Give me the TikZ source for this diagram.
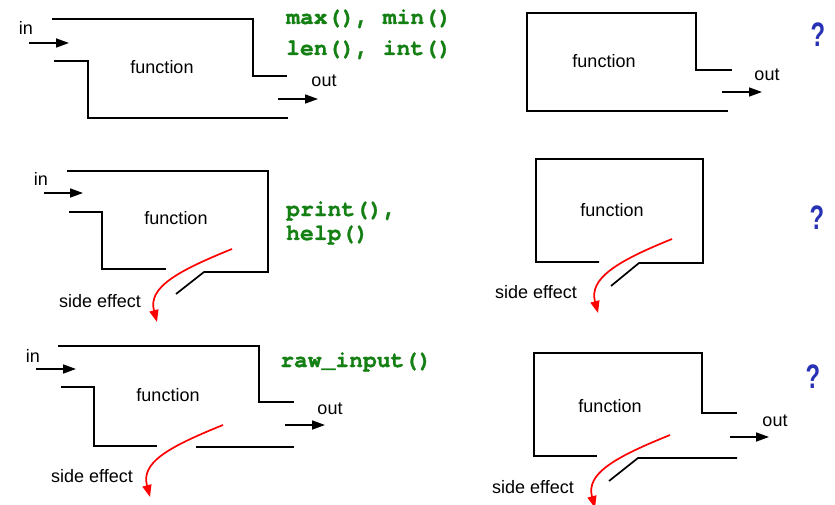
\documentclass[tikz,border=0pt]{standalone}
\usepackage{fontspec}
\setmainfont{Liberation Sans}
\newfontfamily\codefont{TeX Gyre Cursor}[BoldFeatures={FakeBold=1.2}]
\usetikzlibrary{arrows.meta}

\definecolor{codegreen}{RGB}{20,128,20}
\definecolor{askblue}{RGB}{40,50,180}

\begin{document}
\begin{tikzpicture}[x=1pt,y=-1pt,
  wall/.style={line width=1.7pt},
  flow/.style={line width=1.7pt,-{Triangle[length=13pt,width=9pt]}},
  leak/.style={red,line width=1.7pt,-{Triangle[length=12pt,width=9pt]}},
  lbl/.style={font=\fontsize{18}{20}\selectfont,inner sep=0pt,anchor=base},
  code/.style={font=\codefont\bfseries\fontsize{23}{26}\selectfont,text=codegreen,inner sep=0pt,anchor=base west},
  ask/.style={font=\bfseries\fontsize{34}{36}\selectfont,text=askblue,inner sep=0pt}]

  % Page frame, pixel units with y running down
  \path[use as bounding box,fill=white] (0,0) rectangle (835,505);

  % Pure function: in and out only
  \draw[wall] (287,76) -- (253,76) -- (253,19) -- (52,19);
  \draw[wall] (54,61) -- (88,61) -- (88,118) -- (288,118);
  \coordinate (in1a) at (29,43);   \coordinate (in1b) at (69,43);
  \coordinate (out1a) at (278,99); \coordinate (out1b) at (318,99);
  \draw[flow] (in1a) -- (in1b);
  \draw[flow] (out1a) -- (out1b);
  \node[lbl] (in1) at (26,35) {in};
  \node[lbl] (fun1) at (162,74) {function};
  \node[lbl] (out1) at (324,87) {out};
  \node[code] (ex1a) at (286,24) {max(), min()};
  \node[code] (ex1b) at (286,55) {len(), int()};

  % Out only
  \draw[wall] (732,70) -- (696,70) -- (696,13) -- (527,13) -- (527,111) -- (728,111);
  \coordinate (out2a) at (722,92); \coordinate (out2b) at (762,92);
  \draw[flow] (out2a) -- (out2b);
  \node[lbl] (fun2) at (604,68) {function};
  \node[lbl] (out2) at (767,81) {out};
  \node[ask] (ask2) at (818,35) {\scalebox{0.7}[1]{?}};

  % In plus side effect
  \draw[wall] (67,171) -- (268,171) -- (268,272) -- (204,272) -- (176,294);
  \draw[wall] (69,212) -- (102,212) -- (102,269) -- (166,269);
  \coordinate (in3a) at (44,193);  \coordinate (in3b) at (83,193);
  \coordinate (se3a) at (232,249); \coordinate (se3b) at (157,322);
  \draw[flow] (in3a) -- (in3b);
  \draw[leak] (se3a) .. controls +(-57,23) and +(-9,-34) .. (se3b);
  \node[lbl] (in3) at (41,186) {in};
  \node[lbl] (fun3) at (176,225) {function};
  \node[lbl] (se3) at (100,307) {side effect};
  \node[code] (ex3a) at (286,216) {print(),};
  \node[code] (ex3b) at (286,240) {help()};

  % Side effect only
  \draw[wall] (599,262) -- (536,262) -- (536,159) -- (703,159) -- (703,263) -- (639,263) -- (611,286);
  \coordinate (se4a) at (672,239); \coordinate (se4b) at (598,313);
  \draw[leak] (se4a) .. controls +(-57,23) and +(-9,-34) .. (se4b);
  \node[lbl] (fun4) at (612,216) {function};
  \node[lbl] (se4) at (536,298) {side effect};
  \node[ask] (ask4) at (817,218) {\scalebox{0.7}[1]{?}};

  % In, out and side effect
  \draw[wall] (58,346) -- (259,346) -- (259,402) -- (294,402);
  \draw[wall] (61,387) -- (94,387) -- (94,446) -- (157,446);
  \draw[wall] (196,447) -- (294,447);
  \coordinate (in5a) at (36,369);  \coordinate (in5b) at (76,369);
  \coordinate (out5a) at (285,425); \coordinate (out5b) at (325,425);
  \coordinate (se5a) at (223,425); \coordinate (se5b) at (150,497);
  \draw[flow] (in5a) -- (in5b);
  \draw[flow] (out5a) -- (out5b);
  \draw[leak] (se5a) .. controls +(-57,23) and +(-9,-34) .. (se5b);
  \node[lbl] (in5) at (33,362) {in};
  \node[lbl] (fun5) at (168,401) {function};
  \node[lbl] (out5) at (330,414) {out};
  \node[lbl] (se5) at (92,482) {side effect};
  \node[code] (ex5) at (280,367) {raw\_input()};

  % Out plus side effect
  \draw[wall] (737,413) -- (702,413) -- (702,353) -- (534,353) -- (534,456) -- (597,456);
  \draw[wall] (609,481) -- (638,458) -- (737,458);
  \coordinate (out6a) at (730,437); \coordinate (out6b) at (769,437);
  \coordinate (se6a) at (670,435); \coordinate (se6b) at (595,508);
  \draw[flow] (out6a) -- (out6b);
  \draw[leak] (se6a) .. controls +(-57,23) and +(-9,-34) .. (se6b);
  \node[lbl] (fun6) at (610,412) {function};
  \node[lbl] (out6) at (775,426) {out};
  \node[lbl] (se6) at (533,493) {side effect};
  \node[ask] (ask6) at (813,377) {\scalebox{0.7}[1]{?}};

\end{tikzpicture}
\end{document}
